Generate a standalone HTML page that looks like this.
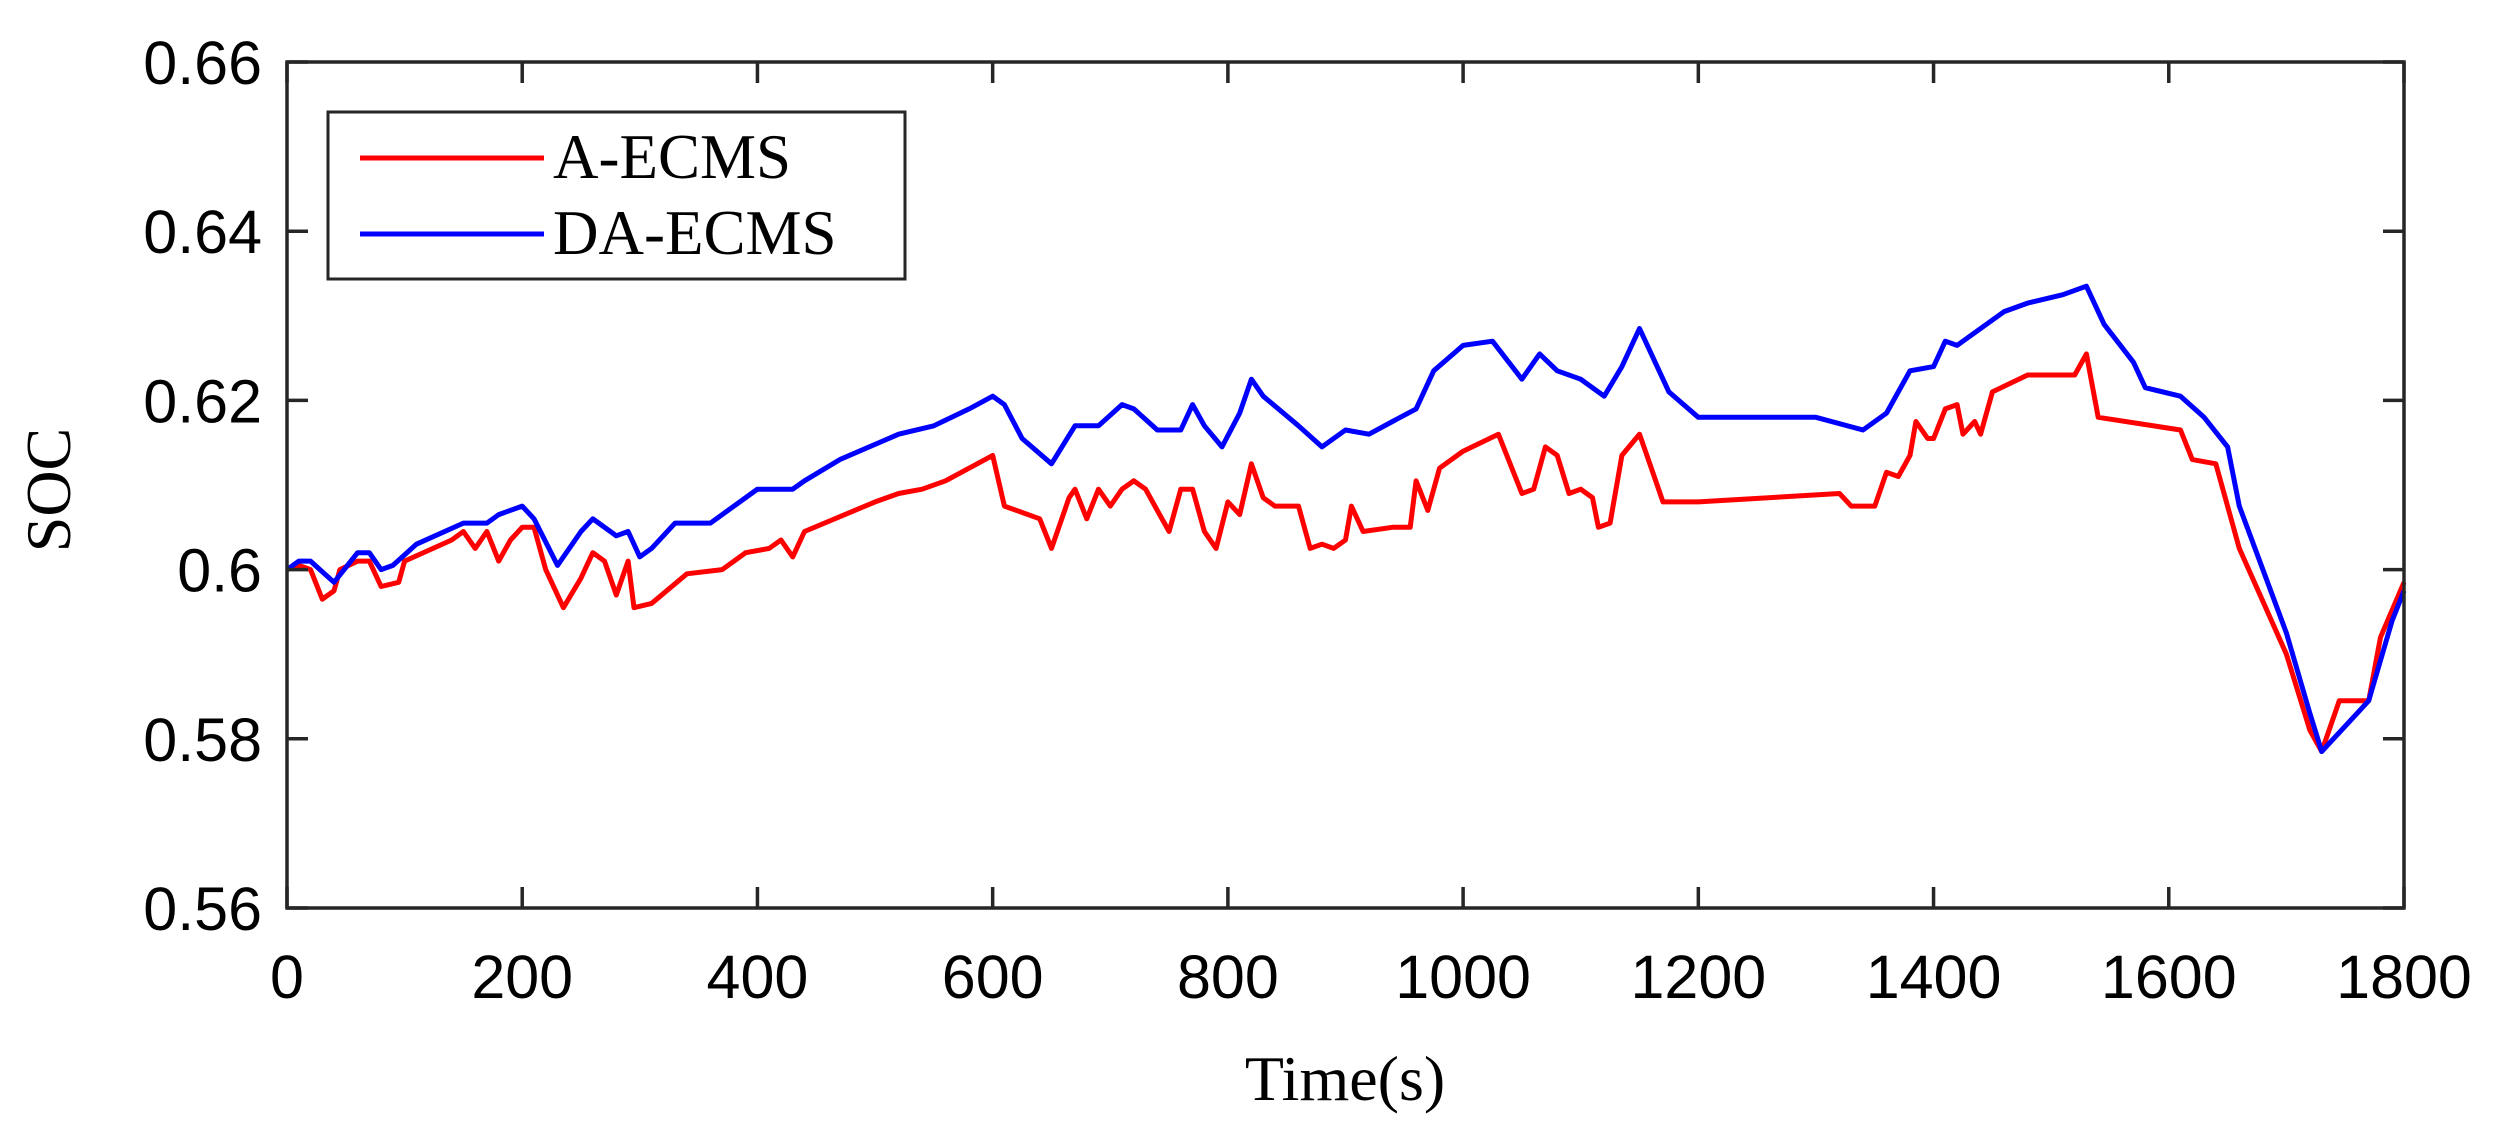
<!DOCTYPE html>
<html><head><meta charset="utf-8"><style>
html,body{margin:0;padding:0;background:#fff;}
svg{display:block;}
</style></head><body>
<svg id="s" width="2499" height="1133" xmlns="http://www.w3.org/2000/svg">
<rect width="2499" height="1133" fill="#fff"/>
<g id="plot"></g>
<rect x="287" y="62" width="2117" height="846" fill="none" stroke="#262626" stroke-width="3.5"/>
<g id="ticks" stroke="#262626" stroke-width="3.5"></g>
<g id="labels" font-family="Liberation Sans, sans-serif" font-size="61" fill="#000"></g>
<text x="1345" y="1100" font-family="Liberation Serif, serif" font-size="64" text-anchor="middle">Time(s)</text>
<text transform="translate(70,490) rotate(-90)" font-family="Liberation Serif, serif" font-size="64" text-anchor="middle">SOC</text>
<rect x="328" y="112" width="577" height="167" fill="#fff" stroke="#262626" stroke-width="3"/>
<line x1="360" y1="158" x2="544" y2="158" stroke="#ff0000" stroke-width="5"/>
<line x1="360" y1="234" x2="544" y2="234" stroke="#0000ff" stroke-width="5"/>
<text x="553" y="178" font-family="Liberation Serif, serif" font-size="63">A-ECMS</text>
<text x="553" y="254" font-family="Liberation Serif, serif" font-size="63">DA-ECMS</text>
</svg>
<script>
var L=287,R=2404,T=62,B=908;
function X(t){return L+(R-L)*t/1800;}
function Y(v){return T+(B-T)*(0.66-v)/0.1;}
var red=[0,.6,10,.6005,20,.6,30,.5965,40,.5975,45,.6,60,.601,70,.601,80,.598,95,.5985,100,.601,140,.6035,150,.6045,160,.6025,170,.6045,180,.601,190,.6035,200,.605,210,.605,220,.6,235,.5955,250,.599,260,.602,270,.601,280,.597,290,.601,295,.5955,310,.596,340,.5995,370,.6,390,.602,410,.6025,420,.6035,430,.6015,440,.6045,500,.608,520,.609,540,.6095,560,.6105,600,.6135,610,.6075,640,.606,650,.6025,665,.6085,670,.6095,680,.606,690,.6095,700,.6075,710,.6095,720,.6105,730,.6095,740,.607,750,.6045,760,.6095,770,.6095,780,.6045,790,.6025,800,.608,810,.6065,820,.6125,830,.6085,840,.6075,860,.6075,870,.6025,880,.603,890,.6025,900,.6035,905,.6075,915,.6045,940,.605,955,.605,960,.6105,970,.607,980,.612,1000,.614,1030,.616,1050,.609,1060,.6095,1070,.6145,1080,.6135,1090,.609,1100,.6095,1110,.6085,1115,.605,1125,.6055,1135,.6135,1150,.616,1160,.612,1170,.608,1200,.608,1320,.609,1330,.6075,1350,.6075,1360,.6115,1370,.611,1380,.6135,1385,.6175,1395,.6155,1400,.6155,1410,.619,1420,.6195,1425,.616,1435,.6175,1440,.616,1450,.621,1480,.623,1520,.623,1530,.6255,1540,.618,1610,.6165,1620,.613,1640,.6125,1660,.6025,1700,.59,1720,.581,1730,.5785,1745,.5845,1770,.5845,1780,.592,1800,.5985];
var blue=[0,.6,10,.601,20,.601,40,.5985,60,.602,70,.602,80,.6,90,.6005,110,.603,150,.6055,170,.6055,180,.6065,200,.6075,210,.606,230,.6005,250,.6045,260,.606,280,.604,290,.6045,300,.6015,310,.6025,330,.6055,360,.6055,400,.6095,430,.6095,440,.6105,470,.613,520,.616,550,.617,580,.619,600,.6205,610,.6195,625,.6155,650,.6125,670,.617,690,.617,710,.6195,720,.619,740,.6165,760,.6165,770,.6195,780,.617,795,.6145,810,.6185,820,.6225,830,.6205,860,.617,880,.6145,900,.6165,920,.616,940,.6175,960,.619,975,.6235,1000,.6265,1025,.627,1050,.6225,1065,.6255,1080,.6235,1100,.6225,1120,.6205,1135,.624,1150,.6285,1175,.621,1200,.618,1300,.618,1340,.6165,1360,.6185,1380,.6235,1400,.624,1410,.627,1420,.6265,1440,.6285,1460,.6305,1480,.6315,1510,.6325,1530,.6335,1545,.629,1570,.6245,1580,.6215,1610,.6205,1630,.618,1650,.6145,1660,.6075,1700,.5925,1720,.583,1730,.5785,1760,.583,1770,.5845,1790,.594,1800,.5975];
var NS="http://www.w3.org/2000/svg";
function poly(d,c){var p=[];for(var i=0;i<d.length;i+=2)p.push(X(d[i]).toFixed(1)+","+Y(d[i+1]).toFixed(1));
var e=document.createElementNS(NS,"polyline");e.setAttribute("points",p.join(" "));e.setAttribute("fill","none");e.setAttribute("stroke",c);e.setAttribute("stroke-width","5");e.setAttribute("stroke-linejoin","round");document.getElementById("plot").appendChild(e);}
poly(red,"#ff0000");poly(blue,"#0000ff");
var tk=document.getElementById("ticks"),lb=document.getElementById("labels");
function ln(a,b,c,d){var e=document.createElementNS(NS,"line");e.setAttribute("x1",a);e.setAttribute("y1",b);e.setAttribute("x2",c);e.setAttribute("y2",d);tk.appendChild(e);}
function tx(x,y,s,a){var e=document.createElementNS(NS,"text");e.setAttribute("x",x);e.setAttribute("y",y);e.setAttribute("text-anchor",a);e.textContent=s;lb.appendChild(e);}
for(var i=0;i<=9;i++){var x=X(i*200);ln(x,B,x,B-21);ln(x,T,x,T+21);tx(x,998,String(i*200),"middle");}
var yl=["0.56","0.58","0.6","0.62","0.64","0.66"];
for(var j=0;j<6;j++){var y=Y(0.56+j*0.02);ln(L,y,L+21,y);ln(R,y,R-21,y);tx(262,y+22,yl[j],"end");}
</script>
</body></html>
